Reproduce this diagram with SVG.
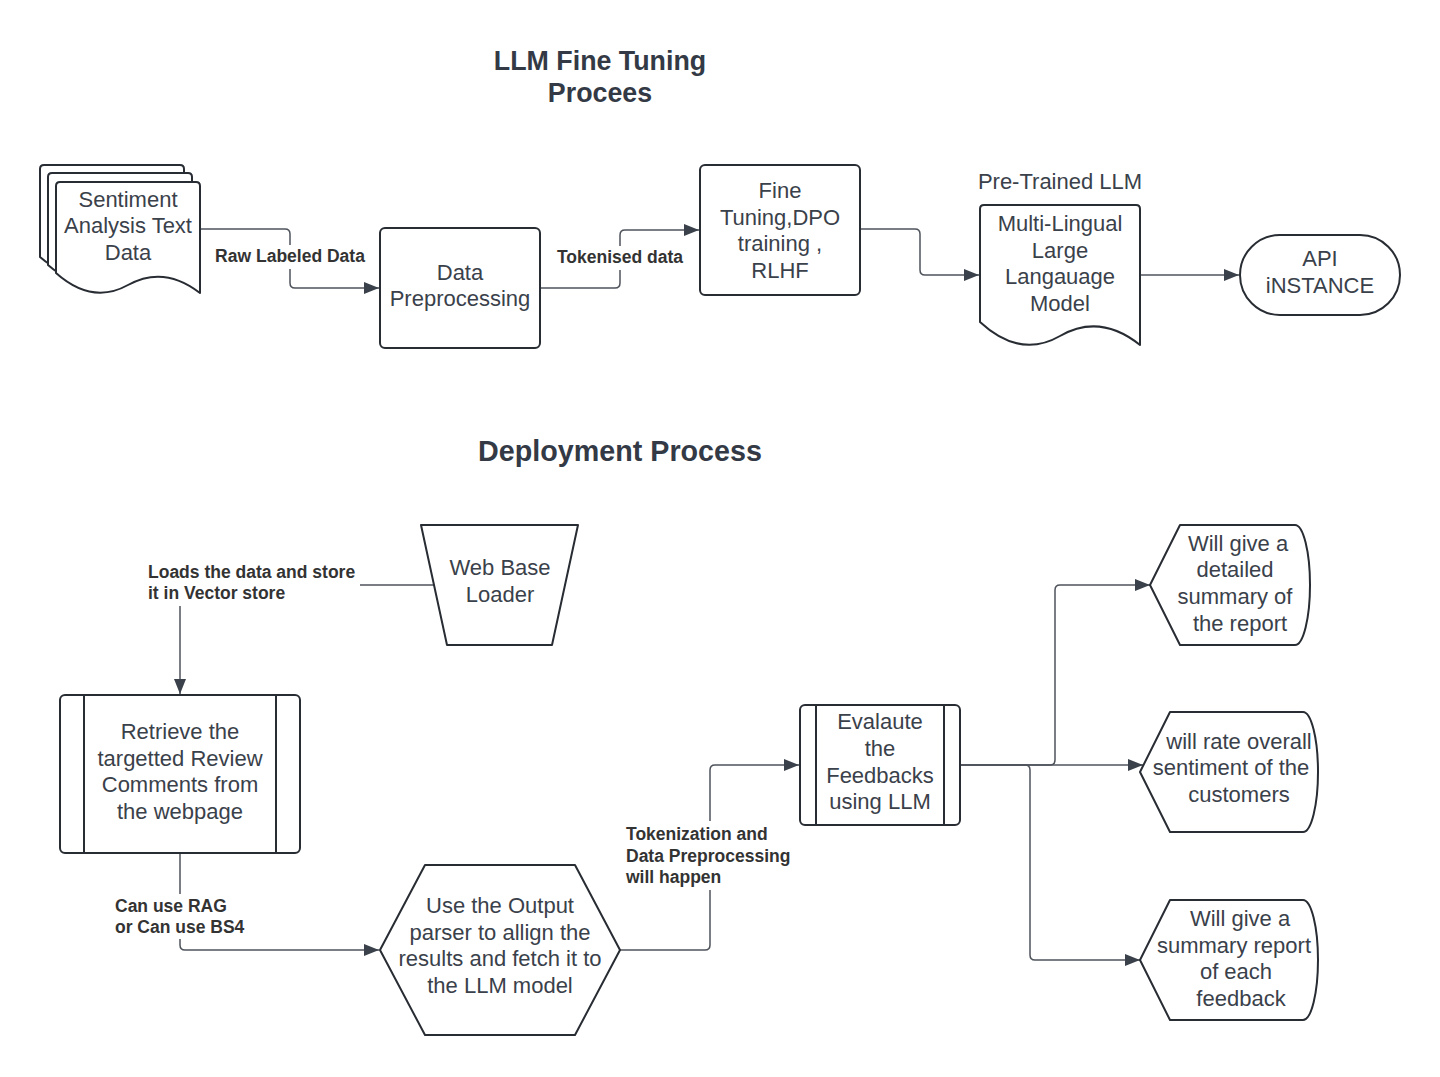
<svg xmlns="http://www.w3.org/2000/svg" width="1440" height="1077" viewBox="0 0 1440 1077">
<style>
.bg{fill:#ffffff}
.node{fill:#ffffff;stroke:#282c33;stroke-width:2;stroke-linejoin:round}
.inner{fill:none;stroke:#282c33;stroke-width:2}
.t{font-family:"Liberation Sans",Arial,sans-serif;font-size:22px;fill:#3a414a;text-anchor:middle}
.lbl{font-family:"Liberation Sans",Arial,sans-serif;font-size:17.5px;font-weight:bold;fill:#333333}
.title{font-family:"Liberation Sans",Arial,sans-serif;font-weight:bold;fill:#333a45;text-anchor:middle}
.conn{fill:none;stroke:#4f545c;stroke-width:1.5}
.lblbg{fill:#ffffff}
</style>
<defs>
<marker id="arr" markerUnits="userSpaceOnUse" markerWidth="16" markerHeight="14" refX="15" refY="7" orient="auto">
<path d="M0,1 L15,7 L0,13 Z" fill="#3a414a"/>
</marker>
</defs>
<rect class="bg" x="0" y="0" width="1440" height="1077"/>

<g id="titles">
<text class="title" x="600" y="70" font-size="26.8">LLM Fine Tuning</text>
<text class="title" x="600" y="102" font-size="26.8">Procees</text>
<text class="title" x="620" y="461" font-size="28.7">Deployment Process</text>
</g>

<g id="connectors">
<path class="conn" d="M200,229 H285 Q290,229 290,234 V283 Q290,288 295,288 H379" marker-end="url(#arr)"/>
<path class="conn" d="M540,288 H615 Q620,288 620,283 V235 Q620,230 625,230 H699" marker-end="url(#arr)"/>
<path class="conn" d="M860,229 H915 Q920,229 920,234 V270 Q920,275 925,275 H979" marker-end="url(#arr)"/>
<path class="conn" d="M1140,275 H1239" marker-end="url(#arr)"/>
<path class="conn" d="M434,585 H185 Q180,585 180,590 V694" marker-end="url(#arr)"/>
<path class="conn" d="M180,853 V945 Q180,950 185,950 H379" marker-end="url(#arr)"/>
<path class="conn" d="M620,950 H705 Q710,950 710,945 V770 Q710,765 715,765 H799" marker-end="url(#arr)"/>
<path class="conn" d="M960,765 H1050 Q1055,765 1055,760 V590 Q1055,585 1060,585 H1150" marker-end="url(#arr)"/>
<path class="conn" d="M960,765 H1143" marker-end="url(#arr)"/>
<path class="conn" d="M960,765 H1025 Q1030,765 1030,770 V955 Q1030,960 1035,960 H1140" marker-end="url(#arr)"/>
<rect class="lblbg" x="212" y="245" width="156" height="24"/>
<text class="lbl" x="290" y="262" text-anchor="middle">Raw Labeled Data</text>
<rect class="lblbg" x="554" y="246" width="132" height="24"/>
<text class="lbl" x="620" y="263" text-anchor="middle">Tokenised data</text>
<rect class="lblbg" x="146" y="559" width="214" height="47"/>
<text class="lbl" x="148" y="578">Loads the data and store</text>
<text class="lbl" x="148" y="599">it in Vector store</text>
<rect class="lblbg" x="113" y="894" width="140" height="45"/>
<text class="lbl" x="115" y="912">Can use RAG</text>
<text class="lbl" x="115" y="933">or Can use BS4</text>
<rect class="lblbg" x="624" y="821" width="172" height="69"/>
<text class="lbl" x="626" y="840">Tokenization and</text>
<text class="lbl" x="626" y="862">Data Preprocessing</text>
<text class="lbl" x="626" y="883">will happen</text>
</g>

<g id="sentiment-data">
<path class="node" d="M40,257 V169 Q40,165 44,165 H180 Q184,165 184,169 V276 Q148,248 112,268 Q76,288 40,257 Z"/>
<path class="node" d="M48,265 V177 Q48,173 52,173 H188 Q192,173 192,177 V284 Q156,256 120,276 Q84,296 48,265 Z"/>
<path class="node" d="M56,273 V186 Q56,182 60,182 H196 Q200,182 200,186 V293 Q164,265 128,285 Q92,305 56,273 Z"/>
<text class="t" x="128" y="207">Sentiment</text>
<text class="t" x="128" y="233">Analysis Text</text>
<text class="t" x="128" y="260">Data</text>
</g>

<g id="data-preprocessing">
<rect class="node" x="380" y="228" width="160" height="120" rx="5"/>
<text class="t" x="460" y="280">Data</text>
<text class="t" x="460" y="306">Preprocessing</text>
</g>

<g id="fine-tuning">
<rect class="node" x="700" y="165" width="160" height="130" rx="5"/>
<text class="t" x="780" y="198">Fine</text>
<text class="t" x="780" y="225">Tuning,DPO</text>
<text class="t" x="780" y="251">training ,</text>
<text class="t" x="780" y="278">RLHF</text>
</g>

<g id="pretrained-llm">
<text class="t" x="1060" y="189">Pre-Trained LLM</text>
<path class="node" d="M980,322 V209 Q980,205 984,205 H1136 Q1140,205 1140,209 V345 Q1100,313 1060,336 Q1020,359 980,322 Z"/>
<text class="t" x="1060" y="231">Multi-Lingual</text>
<text class="t" x="1060" y="258">Large</text>
<text class="t" x="1060" y="284">Langauage</text>
<text class="t" x="1060" y="311">Model</text>
</g>

<g id="api-instance">
<rect class="node" x="1240" y="235" width="160" height="80" rx="40"/>
<text class="t" x="1320" y="266">API</text>
<text class="t" x="1320" y="293">iNSTANCE</text>
</g>

<g id="web-base-loader">
<path class="node" d="M421,525 H578 L552,645 H447 Z"/>
<text class="t" x="500" y="575">Web Base</text>
<text class="t" x="500" y="602">Loader</text>
</g>

<g id="retrieve">
<rect class="node" x="60" y="695" width="240" height="158" rx="5"/>
<line class="inner" x1="84" y1="695" x2="84" y2="853"/>
<line class="inner" x1="276" y1="695" x2="276" y2="853"/>
<text class="t" x="180" y="739">Retrieve the</text>
<text class="t" x="180" y="766">targetted Review</text>
<text class="t" x="180" y="792">Comments from</text>
<text class="t" x="180" y="819">the webpage</text>
</g>

<g id="output-parser">
<path class="node" d="M380,950 L425,865 H575 L620,950 L575,1035 H425 Z"/>
<text class="t" x="500" y="913">Use the Output</text>
<text class="t" x="500" y="940">parser to allign the</text>
<text class="t" x="500" y="966">results and fetch it to</text>
<text class="t" x="500" y="993">the LLM model</text>
</g>

<g id="evaluate">
<rect class="node" x="800" y="705" width="160" height="120" rx="5"/>
<line class="inner" x1="816" y1="705" x2="816" y2="825"/>
<line class="inner" x1="944" y1="705" x2="944" y2="825"/>
<text class="t" x="880" y="729">Evalaute</text>
<text class="t" x="880" y="756">the</text>
<text class="t" x="880" y="783">Feedbacks</text>
<text class="t" x="880" y="809">using LLM</text>
</g>

<g id="detailed-summary">
<path class="node" d="M1150,585 L1180,525 H1295 A15,60 0 0 1 1295,645 H1180 Z"/>
<text class="t" x="1238" y="551">Will give a</text>
<text class="t" x="1235" y="577">detailed</text>
<text class="t" x="1235" y="604">summary of</text>
<text class="t" x="1240" y="631">the report</text>
</g>

<g id="rate-sentiment">
<path class="node" d="M1140,772 L1170,712 H1303 A15,60 0 0 1 1303,832 H1170 Z"/>
<text class="t" x="1239" y="749">will rate overall</text>
<text class="t" x="1231" y="775">sentiment of the</text>
<text class="t" x="1239" y="802">customers</text>
</g>

<g id="summary-report">
<path class="node" d="M1140,960 L1170,900 H1303 A15,60 0 0 1 1303,1020 H1170 Z"/>
<text class="t" x="1240" y="926">Will give a</text>
<text class="t" x="1234" y="953">summary report</text>
<text class="t" x="1236" y="979">of each</text>
<text class="t" x="1241" y="1006">feedback</text>
</g>
</svg>
